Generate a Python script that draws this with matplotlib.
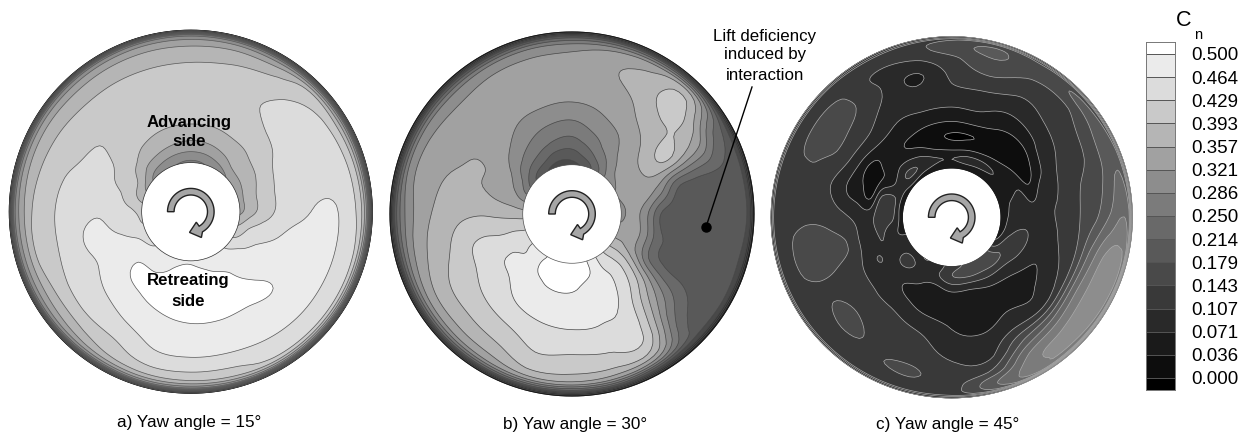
import numpy as np
import matplotlib
matplotlib.use("Agg")
import matplotlib.pyplot as plt
from matplotlib.patches import Polygon, Circle

plt.rcParams['font.family'] = ['Liberation Sans', 'DejaVu Sans']

levels = [0.000, 0.036, 0.071, 0.107, 0.143, 0.179, 0.214, 0.250, 0.286,
          0.321, 0.357, 0.393, 0.429, 0.464, 0.500]
level_labels = ['0.000', '0.036', '0.071', '0.107', '0.143', '0.179', '0.214', '0.250',
                '0.286', '0.321', '0.357', '0.393', '0.429', '0.464', '0.500']
band_colors = ['#000000', '#0d0d0d', '#1a1a1a', '#292929', '#393939', '#494949', '#595959',
               '#696969', '#7b7b7b', '#8d8d8d', '#a1a1a1', '#b5b5b5', '#c9c9c9', '#dcdcdc',
               '#ebebeb', '#ffffff']

# angle clockwise from north (deg), one row per angle; radius as fraction of the disk radius
angles = [0, 15, 30, 45, 60, 75, 90, 105, 120, 135, 150, 165, 180, 195, 210, 225,
          240, 255, 270, 285, 300, 315, 330, 345]
radii_ab = [.27, .33, .40, .50, .60, .70, .80, .88, .93, .97, 1.0]
radii_c = [.27, .33, .40, .46, .53, .60, .70, .80, .88, .94, .98, 1.0]

cn_yaw15 = [
    [.280, .321, .362, .398, .410, .412, .398, .375, .340, .27, .05],
    [.285, .325, .365, .398, .412, .416, .402, .380, .345, .27, .05],
    [.300, .340, .375, .402, .418, .426, .415, .388, .350, .27, .05],
    [.320, .360, .385, .405, .430, .440, .436, .420, .390, .28, .05],
    [.335, .365, .390, .425, .440, .448, .445, .432, .390, .29, .05],
    [.345, .375, .405, .435, .448, .455, .452, .438, .400, .29, .05],
    [.350, .380, .410, .440, .455, .468, .466, .440, .410, .30, .05],
    [.390, .425, .445, .462, .480, .485, .470, .445, .420, .30, .05],
    [.425, .450, .468, .480, .488, .490, .470, .450, .425, .30, .05],
    [.460, .475, .482, .497, .502, .490, .470, .450, .425, .30, .05],
    [.480, .490, .503, .508, .501, .485, .468, .445, .420, .30, .05],
    [.490, .500, .508, .512, .502, .488, .465, .432, .400, .29, .05],
    [.498, .505, .510, .512, .502, .485, .464, .430, .390, .28, .05],
    [.495, .502, .508, .508, .498, .480, .460, .428, .385, .28, .05],
    [.480, .490, .502, .503, .490, .465, .435, .410, .370, .27, .05],
    [.465, .480, .501, .497, .478, .450, .430, .390, .350, .27, .05],
    [.450, .470, .480, .475, .462, .440, .425, .385, .340, .27, .05],
    [.430, .445, .460, .470, .466, .440, .420, .395, .340, .27, .05],
    [.420, .435, .445, .460, .455, .440, .415, .390, .340, .27, .05],
    [.380, .405, .430, .438, .440, .432, .410, .385, .345, .27, .05],
    [.345, .390, .410, .431, .435, .420, .405, .380, .345, .27, .05],
    [.310, .350, .390, .405, .420, .420, .400, .375, .340, .27, .05],
    [.295, .335, .378, .400, .410, .412, .398, .375, .340, .27, .05],
    [.285, .325, .368, .398, .408, .410, .397, .375, .340, .27, .05],
]

cn_yaw30 = [
    [.170, .200, .240, .280, .318, .330, .335, .325, .290, .20, .04],
    [.190, .230, .265, .300, .325, .338, .352, .345, .310, .21, .04],
    [.240, .270, .300, .320, .345, .360, .375, .362, .330, .22, .04],
    [.300, .320, .335, .352, .370, .392, .410, .395, .345, .22, .04],
    [.320, .335, .345, .375, .398, .370, .330, .260, .225, .17, .04],
    [.320, .335, .340, .300, .220, .205, .205, .205, .200, .16, .04],
    [.310, .335, .300, .205, .195, .200, .205, .205, .200, .16, .04],
    [.330, .345, .310, .220, .210, .205, .200, .200, .190, .15, .04],
    [.360, .355, .320, .240, .212, .205, .200, .200, .200, .15, .04],
    [.410, .420, .420, .393, .345, .300, .250, .220, .205, .15, .04],
    [.460, .462, .470, .464, .450, .440, .425, .380, .300, .17, .04],
    [.505, .505, .490, .480, .468, .450, .425, .390, .330, .20, .04],
    [.510, .510, .505, .485, .470, .450, .420, .392, .340, .20, .04],
    [.510, .510, .505, .485, .468, .445, .425, .395, .340, .21, .04],
    [.500, .505, .495, .480, .460, .430, .400, .365, .320, .21, .04],
    [.480, .470, .475, .462, .445, .420, .390, .355, .310, .21, .04],
    [.450, .455, .460, .455, .430, .410, .385, .350, .300, .20, .04],
    [.420, .425, .425, .430, .420, .390, .365, .330, .280, .19, .04],
    [.375, .380, .385, .390, .385, .370, .350, .315, .270, .19, .04],
    [.320, .335, .345, .358, .362, .360, .345, .325, .285, .19, .04],
    [.260, .300, .330, .352, .357, .350, .335, .320, .285, .19, .04],
    [.210, .250, .290, .325, .342, .345, .335, .315, .280, .19, .04],
    [.180, .225, .265, .300, .325, .335, .335, .320, .285, .19, .04],
    [.165, .200, .245, .285, .320, .330, .335, .322, .290, .20, .04],
]

cn_yaw45 = [
    [.050, .070, .012, -.002, .036, .068, .100, .115, .135, .165, .14, .03],
    [.050, .080, .020, .000, .040, .070, .100, .140, .170, .185, .16, .03],
    [.040, .080, .030, .010, .030, .050, .090, .115, .143, .160, .14, .03],
    [.040, .070, .040, .010, .025, .060, .100, .120, .140, .180, .16, .03],
    [.040, .050, .060, .020, .050, .090, .115, .135, .170, .190, .17, .03],
    [.050, .070, .080, .060, .095, .105, .135, .155, .185, .215, .19, .03],
    [.050, .080, .090, .095, .103, .112, .140, .175, .220, .250, .22, .03],
    [.050, .100, .115, .100, .090, .105, .135, .230, .295, .300, .26, .03],
    [.080, .130, .115, .090, .070, .090, .125, .250, .300, .305, .26, .03],
    [.150, .155, .100, .070, .050, .065, .100, .225, .292, .300, .25, .03],
    [.150, .150, .095, .060, .050, .070, .105, .190, .262, .275, .25, .03],
    [.145, .150, .080, .050, .050, .055, .080, .100, .150, .210, .18, .03],
    [.130, .140, .080, .050, .055, .068, .085, .108, .125, .130, .12, .03],
    [.090, .100, .060, .050, .060, .090, .115, .130, .148, .135, .12, .03],
    [.070, .090, .080, .060, .080, .105, .120, .135, .140, .130, .12, .03],
    [.080, .120, .100, .090, .100, .110, .135, .150, .140, .130, .12, .03],
    [.090, .090, .100, .108, .100, .118, .135, .140, .135, .125, .12, .03],
    [.060, .080, .110, .090, .108, .145, .155, .155, .150, .125, .12, .03],
    [.050, .115, .125, .090, .100, .115, .135, .140, .135, .125, .12, .03],
    [.040, .115, .115, .030, .050, .070, .110, .135, .130, .125, .12, .03],
    [.060, .085, .050, .030, .030, .080, .135, .150, .155, .130, .12, .03],
    [.060, .115, .070, .050, .050, .090, .125, .150, .150, .130, .12, .03],
    [.050, .100, .060, .030, .050, .070, .095, .110, .105, .115, .11, .03],
    [.050, .075, .030, .010, .040, .070, .080, .065, .100, .125, .12, .03],
]

panels = [
    dict(cn=cn_yaw15, radii=radii_ab, cx=190.8, cy=211.7, R=182.0, line='#555555', hub='#333333'),
    dict(cn=cn_yaw30, radii=radii_ab, cx=572.0, cy=214.0, R=182.5, line='#444444', hub='#555555'),
    dict(cn=cn_yaw45, radii=radii_c, cx=951.7, cy=217.3, R=181.0, line='#a8a8a8', hub=None),
]

W, H = 1252, 438
fig = plt.figure(figsize=(W / 100, H / 100), dpi=100, facecolor='white')
ax = fig.add_axes([0, 0, 1, 1])
ax.set_xlim(0, W)
ax.set_ylim(H, 0)
ax.axis('off')


def catmull(v, u, axis, periodic):
    # local cubic mapping of the table onto a finer drawing mesh (nodes keep their read values)
    v = np.moveaxis(v, axis, 0)
    n = v.shape[0]
    i = np.floor(u).astype(int)
    t = (u - i).reshape((-1,) + (1,) * (v.ndim - 1))
    if periodic:
        idx = lambda k: np.mod(k, n)
    else:
        idx = lambda k: np.clip(k, 0, n - 1)
    p0, p1, p2, p3 = v[idx(i - 1)], v[idx(i)], v[idx(i + 1)], v[idx(i + 2)]
    out = 0.5 * (2 * p1 + (p2 - p0) * t + (2 * p0 - 5 * p1 + 4 * p2 - p3) * t ** 2
                 + (3 * p1 - p0 - 3 * p2 + p3) * t ** 3)
    return np.moveaxis(out, 0, axis)


def arc_arrow(cx, cy):
    t = np.radians(np.linspace(270, 510, 60))
    ro, ri = 23.3, 16.7
    outer = np.c_[cx + ro * np.sin(t), cy - ro * np.cos(t)]
    inner = np.c_[cx + ri * np.sin(t), cy - ri * np.cos(t)][::-1]
    head = np.array([[cx + 10.6, cy + 25.8], [cx - 1.3, cy + 20.7], [cx + 5.5, cy + 10.5]])
    pts = np.vstack([outer, head, inner])
    ax.add_patch(Polygon(pts, closed=True, fc='#a6a6a6', ec='#222222', lw=1.0, zorder=6))


for p in panels:
    Z0 = np.array(p['cn'], dtype=float)
    rr0 = np.array(p['radii'])
    na, nr = Z0.shape
    ua = np.linspace(0, na, na * 8 + 1)
    ur = np.linspace(0, nr - 1, (nr - 1) * 6 + 1)
    Z = catmull(catmull(Z0, ua, 0, True), ur, 1, False)
    th = np.radians(ua * 360.0 / na)
    rr = np.interp(ur, np.arange(nr), rr0)
    T, Rg = np.meshgrid(th, rr, indexing='ij')
    X = p['cx'] + p['R'] * Rg * np.sin(T)
    Y = p['cy'] - p['R'] * Rg * np.cos(T)
    ax.contourf(X, Y, Z, levels=levels, colors=band_colors, extend='both', antialiased=True)
    ax.contourf(X, Y, Z, levels=levels, colors=band_colors, extend='both', antialiased=True)
    ax.contour(X, Y, Z, levels=levels, colors=p['line'], linewidths=0.5)
    if p['hub']:
        ax.add_patch(Circle((p['cx'], p['cy']), p['R'] * .27, fc='none', ec=p['hub'], lw=0.5, zorder=5))
    arc_arrow(p['cx'], p['cy'])

ax.text(189, 122, 'Advancing', ha='center', va='center', fontsize=12.1, fontweight='bold', color='black', zorder=7)
ax.text(189, 142, 'side', ha='center', va='center', fontsize=12.1, fontweight='bold', color='black', zorder=7)
ax.text(188, 281, 'Retreating', ha='center', va='center', fontsize=12.1, fontweight='bold', color='black', zorder=7)
ax.text(188, 301, 'side', ha='center', va='center', fontsize=12.1, fontweight='bold', color='black', zorder=7)

ax.text(189, 423, 'a) Yaw angle = 15°', ha='center', va='center', fontsize=12.3)
ax.text(575, 425, 'b) Yaw angle = 30°', ha='center', va='center', fontsize=12.3)
ax.text(948, 425, 'c) Yaw angle = 45°', ha='center', va='center', fontsize=12.3)

for y, s in zip([36, 55, 75], ['Lift deficiency', 'induced by', 'interaction']):
    ax.text(765, y, s, ha='center', va='center', fontsize=12.2, color='black', zorder=7)
ax.plot([752, 706], [87, 227], color='black', lw=1.0, zorder=7)
ax.plot([706], [227], 'o', color='black', ms=6.5, zorder=7)

ax.text(1184, 21, 'C', ha='center', va='center', fontsize=15.5)
ax.text(1198, 35, 'n', ha='center', va='center', fontsize=10.5)

# colour bar
y0, y5 = 378.0, 54.0
scale = (y0 - y5) / 0.5
lo, hi = -12 / scale, 0.5 + 12 / scale
cax = fig.add_axes([1146 / W, 1 - 390 / H, 29 / W, 348 / H])
edges = [lo] + levels + [hi]
for i, c in enumerate(band_colors):
    cax.barh(edges[i], 1, height=edges[i + 1] - edges[i], align='edge', color=c, lw=0)
cax.hlines(levels, 0, 1, colors='#555555', lw=0.7)
cax.set_xlim(0, 1)
cax.set_ylim(lo, hi)
cax.set_xticks([])
cax.yaxis.tick_right()
cax.set_yticks(levels)
cax.set_yticklabels(level_labels, fontsize=13.5)
cax.tick_params(axis='y', length=0, pad=11.5)
for s in cax.spines.values():
    s.set_linewidth(0.7)
    s.set_color('#777777')

fig.savefig('out.png', dpi=100, facecolor='white')
